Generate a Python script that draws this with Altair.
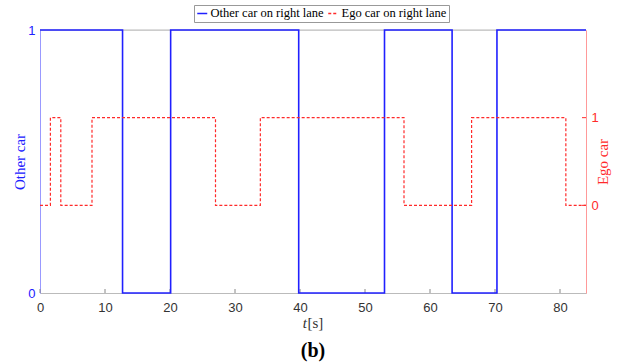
import altair as alt
import pandas as pd

# ---- data ----
other_t = [0, 12.7, 20.1, 39.8, 53.0, 63.4, 70.3, 84]
other_v = [1, 0, 1, 0, 1, 0, 1, 1]
ego_t = [0, 1.6, 3.2, 8.0, 27.0, 33.9, 56.0, 66.4, 80.9, 84]
ego_v = [0, 1, 0, 1, 0, 1, 0, 1, 0, 0]
x_ticks = [0, 10, 20, 30, 40, 50, 60, 70, 80]
y_ticks = [0, 1]
series_names = ["Other car on right lane", "Ego car on right lane"]

df_other = pd.DataFrame({"t": other_t, "v": other_v, "series": series_names[0]})
df_ego = pd.DataFrame({"t": ego_t, "v": ego_v, "series": series_names[1]})
df_xt = pd.DataFrame({"t": x_ticks})
df_yt = pd.DataFrame({"v": y_ticks})
df_one = pd.DataFrame({"k": [0]})

W, H = 546, 263
SERIF = "Liberation Serif"
SANS = "Liberation Sans"
BLUE = "#2020ff"
RED = "#ff2a2a"

xscale = alt.Scale(domain=[0, 84], nice=False, zero=False)
color = alt.Color(
    "series:N",
    scale=alt.Scale(domain=series_names, range=[BLUE, RED]),
    legend=alt.Legend(
        title=None, orient="none", legendX=154, legendY=-25, direction="horizontal",
        symbolType="stroke", symbolSize=100, symbolStrokeWidth=1.5,
        labelFont=SERIF, labelFontSize=12.5, labelColor="#000000",
        strokeColor="#999999", padding=2, columnPadding=1, labelOffset=2,
        fillColor="#ffffff",
    ),
)
dash = alt.StrokeDash(
    "series:N",
    scale=alt.Scale(domain=series_names, range=[[1, 0], [3, 2]]),
    legend=None,
)

xaxis = alt.Axis(
    values=x_ticks, tickSize=0, labelFont=SANS, labelFontSize=13, labelColor="#333333",
    domainColor="#bbbbbb", grid=False, labelPadding=8, title=None, labelFlush=False,
    format="d",
)

# top border
top = alt.Chart(df_one).mark_rule(color="#bbbbbb", strokeWidth=1).encode(
    x=alt.value(0), x2=alt.value(W), y=alt.value(0)
)
# inward x ticks
xt = alt.Chart(df_xt).mark_rule(color="#888888", strokeWidth=1).encode(
    x=alt.X("t:Q", scale=xscale, axis=xaxis), y=alt.value(H), y2=alt.value(H - 4)
)

other_line = alt.Chart(df_other).mark_line(interpolate="step-after", strokeWidth=1.6).encode(
    x=alt.X("t:Q", scale=xscale, axis=xaxis),
    y=alt.Y(
        "v:Q", scale=alt.Scale(domain=[0, 1], nice=False),
        axis=alt.Axis(
            values=y_ticks, orient="left", tickSize=0, labelFont=SANS, labelFontSize=13,
            labelColor=BLUE, domainColor="#9999ff", grid=False, labelPadding=5,
            title="Other car", titleFont=SERIF, titleFontSize=15, titleFontWeight="normal",
            titleColor=BLUE, titlePadding=0, format="d",
        ),
    ),
    color=color, strokeDash=dash,
)

ego_ticks = alt.Chart(df_yt).mark_rule(color=RED, strokeWidth=1).encode(
    y=alt.Y("v:Q", scale=alt.Scale(domain=[-1, 2], nice=False)),
    x=alt.value(W - 4), x2=alt.value(W),
)
ego_line = alt.Chart(df_ego).mark_line(interpolate="step-after", strokeWidth=1.2).encode(
    x=alt.X("t:Q", scale=xscale, axis=xaxis),
    y=alt.Y(
        "v:Q", scale=alt.Scale(domain=[-1, 2], nice=False),
        axis=alt.Axis(
            values=y_ticks, orient="right", tickSize=0, labelFont=SANS, labelFontSize=13,
            labelColor=RED, domainColor="#ff9999", grid=False, labelPadding=5,
            title="Ego car", titleFont=SERIF, titleFontSize=15, titleFontWeight="normal",
            titleColor=RED, titlePadding=12, titleAngle=270, format="d",
        ),
    ),
    color=color, strokeDash=dash,
)

t_label = alt.Chart(df_one).mark_text(
    text="t", font=SERIF, fontSize=15, fontStyle="italic", align="right", baseline="middle",
    color="#333333",
).encode(x=alt.value(267), y=alt.value(293))
s_label = alt.Chart(df_one).mark_text(
    text="[s]", font=SERIF, fontSize=15, align="left", baseline="middle", color="#333333",
).encode(x=alt.value(267.5), y=alt.value(293))
b_label = alt.Chart(df_one).mark_text(
    text="(b)", font=SERIF, fontSize=20, fontWeight="bold", align="center", baseline="middle",
    color="#000000",
).encode(x=alt.value(273), y=alt.value(321))

left_group = alt.layer(top, xt, other_line)
right_group = alt.layer(ego_ticks, ego_line, t_label, s_label, b_label)

chart = (
    alt.layer(left_group, right_group)
    .resolve_scale(y="independent")
    .properties(
        width=W, height=H,
        autosize=alt.AutoSizeParams(type="none"),
        padding={"left": 40, "top": 30, "right": 35, "bottom": 71},
    )
    .configure_view(stroke=None)
    .configure(background="#ffffff")
)

chart.save("out.html", embed_options={"renderer": "svg", "actions": False})
